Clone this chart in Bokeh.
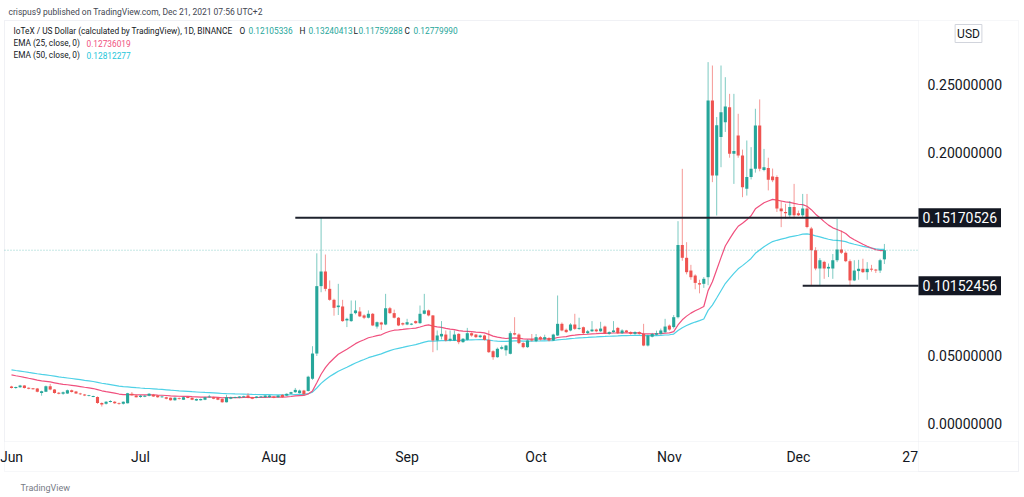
import numpy as np
import pandas as pd
from bokeh.plotting import figure
from bokeh.models import Range1d, Label, ColumnDataSource, BoxAnnotation
from bokeh.core.properties import value
from bokeh.embed import file_html
from bokeh.resources import INLINE

# ---------------- data (IOTX/USD daily, Binance) ----------------
start_date = "2021-06-01"

opens = [
    .0272, .0262, .0268, .0280, .0262, .0258, .0258, .0225, .0235, .0275,
    .0250, .0225, .0220, .0222, .0245, .0236, .0222, .0214, .0203, .0197,
    .0196, .0152, .0145, .0160, .0160, .0150, .0145, .0150, .0219, .0206,
    .0196, .0198, .0204, .0212, .0206, .0194, .0194, .0189, .0172, .0187,
    .0176, .0194, .0189, .0170, .0172, .0175, .0194, .0194, .0189, .0182,
    .0157, .0182, .0189, .0189, .0194, .0206, .0194, .0189, .0194, .0194,
    .0194, .0199, .0194, .0211, .0206, .0219, .0231, .0224, .0243, .0240,
    .0330, .0516, .1013, .1121, .0993, .0912, .0858, .0863, .0760, .0755,
    .0814, .0826, .0797, .0780, .0809, .0715, .0745, .0730, .0850, .0814,
    .0780, .0740, .0730, .0730, .0755, .0740, .0809, .0834, .0797, .0612,
    .0642, .0656, .0612, .0612, .0661, .0600, .0617, .0666, .0656, .0637,
    .0649, .0617, .0533, .0489, .0551, .0540, .0514, .0666, .0656, .0593,
    .0563, .0620, .0607, .0637, .0620, .0630, .0612, .0649, .0735, .0691,
    .0686, .0730, .0698, .0710, .0666, .0680, .0693, .0680, .0715, .0661,
    .0674, .0705, .0666, .0686, .0674, .0661, .0674, .0661, .0575, .0640,
    .0655, .0661, .0674, .0722, .0711, .0784, .1317, .1222, .1128, .1091,
    .1035, .1030, .1079, .2382, .1829, .2112, .2222, .2333, .1990, .2124,
    .1976, .1731, .1817, .1878, .2198, .1870, .1885, .1822, .1817, .1585,
    .1560, .1536, .1597, .1550, .1536, .1585, .1438, .1278, .1143, .1192,
    .1143, .1143, .1204, .1284, .1259, .1197, .1055, .1124, .1141, .1116,
    .1141, .1135, .1128, .12105336,
]
highs = [
    .0278, .0272, .0285, .0283, .0266, .0262, .0262, .0242, .0280, .0292,
    .0254, .0232, .0236, .0250, .0250, .0240, .0226, .0218, .0211, .0205,
    .0200, .0156, .0165, .0172, .0165, .0155, .0163, .0226, .0232, .0212,
    .0210, .0210, .0224, .0218, .0209, .0204, .0198, .0192, .0194, .0192,
    .0198, .0199, .0192, .0184, .0184, .0197, .0211, .0198, .0192, .0185,
    .0211, .0198, .0198, .0202, .0205, .0224, .0197, .0202, .0202, .0209,
    .0209, .0203, .0209, .0216, .0222, .0234, .0262, .0250, .0248, .0352,
    .0570, .1255, .15170526, .1246, .1055, .0920, .1030, .0912, .0780, .0907,
    .0907, .0858, .0805, .0834, .0815, .0752, .0750, .0956, .0860, .0840,
    .0785, .0745, .0772, .0740, .0760, .0870, .0956, .0840, .0800, .0686,
    .0755, .0686, .0686, .0686, .0665, .0630, .0705, .0672, .0660, .0655,
    .0655, .0686, .0540, .0560, .0575, .0580, .0680, .0784, .0665, .0600,
    .0620, .0660, .0660, .0645, .0655, .0637, .0662, .0944, .0745, .0700,
    .0740, .0809, .0780, .0715, .0690, .0755, .0700, .0750, .0722, .0680,
    .0755, .0712, .0695, .0690, .0680, .0680, .0680, .0735, .0655, .0668,
    .0685, .0700, .0772, .0730, .0800, .1492, .1878, .1337, .1170, .1100,
    .1060, .1080, .2665, .2640, .2260, .2640, .2554, .2431, .2431, .2284,
    .2020, .2087, .2038, .2321, .2390, .2025, .1960, .1880, .1830, .1640,
    .1620, .1640, .1767, .1570, .1693, .1693, .1450, .1300, .1220, .1200,
    .1180, .1250, .1509, .1423, .1270, .1210, .1204, .1207, .1215, .1190,
    .1170, .1140, .1215, .13240413,
]
lows = [
    .0258, .0256, .0263, .0258, .0252, .0250, .0230, .0205, .0232, .0245,
    .0220, .0215, .0212, .0218, .0228, .0218, .0210, .0202, .0200, .0194,
    .0145, .0125, .0140, .0155, .0145, .0138, .0140, .0148, .0205, .0192,
    .0190, .0194, .0200, .0196, .0190, .0190, .0178, .0168, .0168, .0176,
    .0173, .0186, .0172, .0166, .0169, .0172, .0190, .0179, .0172, .0153,
    .0155, .0179, .0186, .0186, .0191, .0186, .0179, .0186, .0191, .0191,
    .0191, .0186, .0190, .0191, .0202, .0216, .0226, .0220, .0212, .0236,
    .0322, .0498, .0968, .0975, .0905, .0795, .0800, .0750, .0711, .0750,
    .0805, .0785, .0770, .0775, .0718, .0700, .0690, .0725, .0808, .0775,
    .0718, .0722, .0725, .0725, .0735, .0735, .0805, .0790, .0526, .0540,
    .0620, .0605, .0605, .0608, .0585, .0595, .0612, .0640, .0630, .0630,
    .0612, .0520, .0470, .0485, .0545, .0500, .0510, .0650, .0585, .0555,
    .0558, .0605, .0600, .0612, .0615, .0605, .0608, .0645, .0680, .0668,
    .0680, .0690, .0690, .0660, .0660, .0675, .0672, .0675, .0660, .0655,
    .0670, .0660, .0660, .0668, .0655, .0655, .0655, .0570, .0568, .0635,
    .0650, .0655, .0668, .0685, .0700, .0775, .1200, .1100, .1060, .0990,
    .0960, .1000, .1020, .1780, .1534, .1890, .2150, .1960, .1767, .1960,
    .1669, .1681, .1800, .1850, .1860, .1860, .1719, .1780, .1560, .1448,
    .1510, .1520, .1510, .1530, .1520, .1440, .10152456, .1130, .1016, .1067,
    .1080, .1067, .1190, .1250, .1190, .1016, .1050, .1060, .1110, .1060,
    .1120, .1110, .1110, .11759288,
]
closes = [
    .0262, .0268, .0280, .0262, .0258, .0256, .0234, .0238, .0275, .0250,
    .0225, .0220, .0230, .0245, .0232, .0222, .0215, .0207, .0208, .0200,
    .0152, .0140, .0160, .0165, .0150, .0143, .0160, .0224, .0209, .0194,
    .0204, .0205, .0219, .0199, .0194, .0199, .0182, .0172, .0189, .0180,
    .0194, .0189, .0175, .0180, .0180, .0194, .0199, .0182, .0175, .0157,
    .0194, .0194, .0194, .0199, .0201, .0189, .0182, .0199, .0199, .0206,
    .0206, .0189, .0206, .0194, .0219, .0231, .0248, .0243, .0216, .0345,
    .0516, .1013, .1121, .0993, .0912, .0853, .0870, .0755, .0772, .0809,
    .0834, .0790, .0780, .0809, .0723, .0747, .0730, .0850, .0814, .0780,
    .0723, .0730, .0747, .0735, .0740, .0809, .0834, .0797, .0612, .0649,
    .0661, .0612, .0625, .0656, .0600, .0625, .0666, .0649, .0637, .0649,
    .0617, .0526, .0489, .0551, .0563, .0575, .0666, .0656, .0593, .0563,
    .0612, .0612, .0637, .0620, .0637, .0612, .0656, .0735, .0686, .0674,
    .0730, .0698, .0705, .0666, .0680, .0693, .0680, .0700, .0666, .0674,
    .0686, .0666, .0686, .0674, .0661, .0674, .0661, .0575, .0649, .0660,
    .0666, .0686, .0715, .0693, .0784, .1317, .1222, .1116, .1079, .1037,
    .1025, .1067, .2382, .1829, .2200, .2296, .2337, .1989, .2010, .1976,
    .1743, .1817, .1878, .2198, .1878, .1890, .1797, .1793, .1585, .1565,
    .1550, .1597, .1536, .1536, .1585, .1450, .1278, .1143, .1204, .1143,
    .1155, .1204, .1284, .1259, .1197, .1055, .1128, .1141, .1116, .1141,
    .1135, .1128, .1204, .12779990,
]

# EMA values on the first visible day
ema25_first = 0.0359
ema50_first = 0.0396

# horizontal levels drawn by the author
level_values = [0.15170526, 0.10152456]
level_labels = ["0.15170526", "0.10152456"]
level_start = ["2021-08-06", "2021-12-02"]

# axis ticks
month_tick_dates = ["2021-06-01", "2021-07-01", "2021-08-01", "2021-09-01",
                    "2021-10-01", "2021-11-01", "2021-12-01", "2021-12-27"]
month_tick_labels = ["Jun", "Jul", "Aug", "Sep", "Oct", "Nov", "Dec", "27"]
price_ticks = [0.0, 0.05, 0.20, 0.25]
price_tick_labels = ["0.00000000", "0.05000000", "0.20000000", "0.25000000"]

header = "crispus9 published on TradingView.com, Dec 21, 2021 07:56 UTC+2"
symbol_text = "IoTeX / US Dollar (calculated by TradingView), 1D, BINANCE"
ohlc_tags = ["O", "H", "L", "C"]
ohlc_vals = ["0.12105336", "0.13240413", "0.11759288", "0.12779990"]
ema_titles = ["EMA (25, close, 0)", "EMA (50, close, 0)"]
ema_vals = ["0.12736019", "0.12812277"]
currency = "USD"
brand = "TradingView"

# ---------------- derived ----------------
t0 = pd.Timestamp(start_date)
def day_index(s):
    return (pd.Timestamp(s) - t0).days

n = len(closes)
x = np.arange(n)
o = np.array(opens); c = np.array(closes)
h = np.maximum.reduce([np.array(highs), o, c])
l = np.minimum.reduce([np.array(lows), o, c])
up = c >= o
GREEN, RED = "#26a69a", "#ef5350"
col = np.where(up, GREEN, RED)
top = np.maximum(o, c); bot = np.minimum(o, c)
thin = (top - bot) < 0.0007
mid = (top + bot) / 2
top = np.where(thin, mid + 0.00035, top)
bot = np.where(thin, mid - 0.00035, bot)

def ema(vals, n_per, first):
    a = 2.0 / (n_per + 1)
    out = [first]
    for v in vals[1:]:
        out.append(out[-1] + a * (v - out[-1]))
    return np.array(out)

ema25 = ema(closes, 25, ema25_first)
ema50 = ema(closes, 50, ema50_first)

src = ColumnDataSource(dict(x=x, h=h, l=l, top=top, bot=bot, col=col))

# ---------------- geometry (whole canvas is the plot frame) ----------------
W, H = 1024, 497
CHART_R, CHART_B = 918, 441       # price-axis boundary, time-axis boundary (px)
PX_DAY, X0 = 4.30, 11.0           # px per day, px of first day
PX_UNIT, Y0 = 1356.0, 423.0       # px per price unit, px of price 0

def dx(px):      # canvas px -> day coordinate
    return (px - X0) / PX_DAY
def py(cy):      # canvas px (from top) -> price coordinate
    return (Y0 - cy) / PX_UNIT
def sy(cy):      # canvas px (from top) -> screen units (from bottom)
    return H - cy

FONT = "Roboto"
TXT = "#131722"
BORDER = "#e0e3eb"

p = figure(width=W, height=H, x_range=Range1d(dx(0), dx(W)),
           y_range=Range1d(py(H), py(0)), output_backend="svg",
           toolbar_location=None, x_axis_location=None, y_axis_location=None,
           min_border=0)
p.min_border_left = p.min_border_right = p.min_border_top = p.min_border_bottom = 0
p.background_fill_color = "white"
p.border_fill_color = "white"
p.outline_line_color = None
p.xgrid.grid_line_color = None
p.ygrid.grid_line_color = None

# panel borders
for (l0, r0, t0_, b0) in [(4, 1018, 20, 471), (4, CHART_R, 20, CHART_B),
                          (CHART_R, 1018, CHART_B, 471)]:
    p.add_layout(BoxAnnotation(left=l0, right=r0, top=sy(t0_), bottom=sy(b0),
                               left_units="screen", right_units="screen",
                               top_units="screen", bottom_units="screen",
                               fill_alpha=0, line_color=BORDER, line_width=1,
                               level="underlay"))

# EMA lines
p.line(x, ema50, line_color="#4fd1e6", line_width=1.2)
p.line(x, ema25, line_color="#f0507e", line_width=1.2)

# candles
p.segment("x", "h", "x", "l", source=src, line_color="col", line_alpha=0.6, line_width=1)
p.vbar("x", 0.72, "top", "bot", source=src, fill_color="col", line_color=None)

# last price dotted line (up to the price axis)
p.segment(x0=[dx(4)], y0=[closes[-1]], x1=[dx(CHART_R)], y1=[closes[-1]],
          line_color=GREEN, line_alpha=0.55, line_dash="1 2", line_width=1)

# author levels (up to the price axis)
lv_x0 = [day_index(d) for d in level_start]
p.segment(x0=lv_x0, y0=level_values, x1=[dx(CHART_R)] * len(level_values),
          y1=level_values, line_color="#1e222d", line_width=2)

# price axis tick labels
p.text(x=[dx(927)] * len(price_ticks), y=price_ticks, text=price_tick_labels,
       text_font=value(FONT), text_font_size="14px", text_color=TXT,
       text_align="left", text_baseline="middle")

# time axis tick labels
xt = [day_index(d) for d in month_tick_dates]
p.text(x=xt, y=[py(456)] * len(xt), text=month_tick_labels,
       text_font=value(FONT), text_font_size="14px", text_color=TXT,
       text_align="center", text_baseline="middle")

def label(cx, cy, text, color=TXT, size="8.3px", align="left", **kw):
    p.add_layout(Label(x=cx, y=sy(cy), x_units="screen", y_units="screen",
                       text=text, text_color=color, text_font=FONT,
                       text_font_size=size, text_align=align,
                       text_baseline="middle", **kw))

label(8, 11, header, color="#434651", size="8.5px")
label(13, 30, symbol_text)
for tag, val, tx, vx in zip(ohlc_tags, ohlc_vals, [239, 299, 353, 404], [248, 308, 358, 413]):
    label(tx, 30, tag)
    label(vx, 30, val, color=GREEN)
label(13, 42.5, ema_titles[0])
label(86, 42.5, ema_vals[0], color="#f0507e")
label(13, 54.5, ema_titles[1])
label(86, 54.5, ema_vals[1], color="#26c6da")

# price tags for the levels
for v, s in zip(level_values, level_labels):
    cy = Y0 - v * PX_UNIT
    label(CHART_R, cy, s, color="white", size="14px", background_fill_color="#131722",
          padding=4)

label(968, 33, currency, size="12px", align="center", border_line_color="#d1d4dc",
      background_fill_color="white", padding=2)
label(20, 487, brand, color="#787b86", size="9px")

open("out.html", "w").write(file_html(p, INLINE))
